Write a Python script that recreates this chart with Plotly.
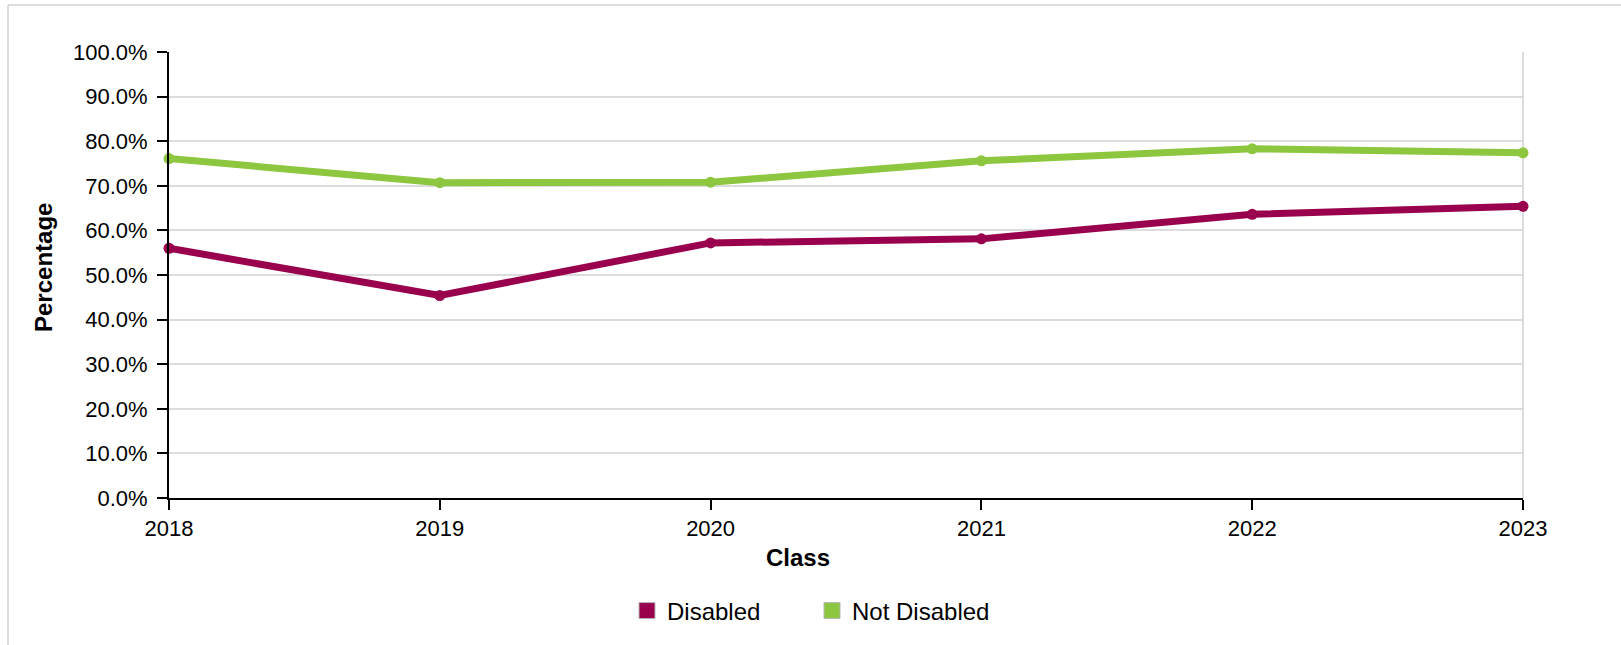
import plotly.graph_objects as go

years = [2018, 2019, 2020, 2021, 2022, 2023]
disabled = [56.0, 45.4, 57.2, 58.1, 63.6, 65.4]
not_disabled = [76.1, 70.7, 70.8, 75.6, 78.3, 77.4]
series_names = ["Disabled", "Not Disabled"]
series_colors = ["#99004D", "#8DC63F"]
y_ticks = list(range(0, 101, 10))
y_tick_labels = [f"{v:.1f}%" for v in y_ticks]

W, H = 1621, 645
L, R, T, B = 169, 1523, 52, 498
pw, ph = R - L, B - T


def px(x):
    return (x - L) / pw


def py(y):
    return (B - y) / ph


FONT = "Liberation Sans, Arial, Helvetica, sans-serif"

fig = go.Figure()
for name, vals, col in zip(series_names, [disabled, not_disabled], series_colors):
    fig.add_trace(go.Scatter(
        x=years, y=vals, mode="lines+markers", name=name,
        line=dict(color=col, width=7), marker=dict(color=col, size=11),
        cliponaxis=False, showlegend=False,
    ))
for name, col in zip(series_names, series_colors):
    fig.add_trace(go.Scatter(
        x=[None], y=[None], mode="markers", name=name,
        marker=dict(symbol="square", size=18, color=col, line=dict(color="#b5b5b5", width=1)),
        showlegend=True,
    ))

fig.update_layout(
    width=W, height=H,
    margin=dict(l=L, r=W - R, t=T, b=H - B),
    paper_bgcolor="white", plot_bgcolor="white",
    font=dict(family=FONT, size=22, color="#000"),
    showlegend=True,
    legend=dict(orientation="h", x=px(812), y=py(611), xanchor="center", yanchor="middle",
                font=dict(size=24, color="#000"), entrywidth=140, entrywidthmode="pixels",
                bgcolor="rgba(0,0,0,0)"),
    xaxis=dict(range=[years[0], years[-1]], tickmode="array", tickvals=years,
               ticktext=[str(y) for y in years], showgrid=False, zeroline=False,
               showline=True, linecolor="#000", linewidth=2,
               ticks="outside", ticklen=10, tickwidth=2, tickcolor="#000",
               tickfont=dict(size=22, color="#000")),
    yaxis=dict(range=[0, 100], tickmode="array", tickvals=y_ticks, ticktext=y_tick_labels,
               showgrid=True, gridcolor="#dcdcdc", gridwidth=2, zeroline=False,
               showline=True, linecolor="#000", linewidth=2,
               ticks="outside", ticklen=10, tickwidth=2, tickcolor="#000",
               ticklabelstandoff=5,
               tickfont=dict(size=22, color="#000")),
    annotations=[
        dict(text="<b>Percentage</b>", x=px(43), y=py(268), xref="paper", yref="paper",
             textangle=-90, showarrow=False, font=dict(size=24, color="#000"),
             xanchor="center", yanchor="middle"),
        dict(text="<b>Class</b>", x=px(798), y=py(557), xref="paper", yref="paper",
             showarrow=False, font=dict(size=24, color="#000"),
             xanchor="center", yanchor="middle"),
    ],
    shapes=[
        dict(type="line", xref="paper", yref="paper", x0=1, x1=1, y0=0, y1=1,
             line=dict(color="#dcdcdc", width=2), layer="below"),
        dict(type="line", xref="paper", yref="paper", x0=px(8), x1=px(8), y0=py(5), y1=py(660),
             line=dict(color="#dddddd", width=2)),
        dict(type="line", xref="paper", yref="paper", x0=px(8), x1=px(1640), y0=py(5), y1=py(5),
             line=dict(color="#dddddd", width=2)),
    ],
)

fig.write_html("out.html", config={"displayModeBar": False},
               post_script="document.body.style.margin='0';document.body.style.overflow='hidden';")
